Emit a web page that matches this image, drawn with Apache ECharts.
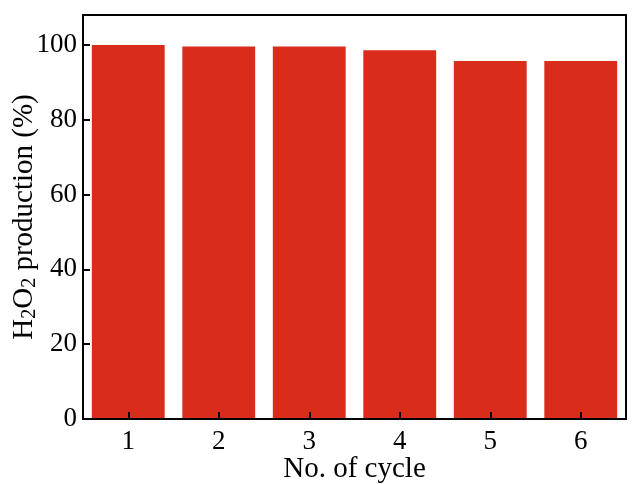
<!DOCTYPE html>
<html><head><meta charset="utf-8">
<script src="https://cdn.jsdelivr.net/npm/echarts@6/dist/echarts.min.js"></script>
<style>html,body{margin:0;padding:0;background:#fff}#c{width:640px;height:484px}</style>
</head><body><div id="c"></div>
<script>
const categories = ['1', '2', '3', '4', '5', '6'];
const production = [100, 99.6, 99.6, 98.6, 95.7, 95.7];
const yTicks = [0, 20, 40, 60, 80, 100];

const chart = echarts.init(document.getElementById('c'));
const font = 'Liberation Serif';
chart.setOption({
  animation: false,
  backgroundColor: '#fff',
  grid: { left: 83, right: 14, top: 15, bottom: 65, show: true, borderColor: '#000', borderWidth: 2,
    containLabel: false, outerBoundsMode: 'none' },
  xAxis: {
    type: 'category', data: categories, z: 5,
    axisLine: { lineStyle: { color: '#000', width: 2 } },
    axisTick: { show: true, inside: true, alignWithLabel: true, length: 7, lineStyle: { color: '#000', width: 2 } },
    axisLabel: { color: '#000', fontFamily: font, fontSize: 27, margin: 9 },
    name: 'No. of cycle', nameLocation: 'middle', nameGap: 36, nameMoveOverlap: false,
    nameTextStyle: { color: '#000', fontFamily: font, fontSize: 29 }
  },
  yAxis: {
    type: 'value', min: 0, max: 108, interval: 20, z: 5,
    splitLine: { show: false },
    axisLine: { show: true, lineStyle: { color: '#000', width: 2 } },
    axisTick: { show: true, inside: true, length: 7, lineStyle: { color: '#000', width: 2 } },
    axisLabel: { color: '#000', fontFamily: font, fontSize: 27, margin: 6, showMaxLabel: false,
      formatter: v => yTicks.includes(v) ? String(v) : '' },
    name: '{a|H}{s|2}{a|O}{s|2}{a| production (%)}', nameLocation: 'middle', nameGap: 43, nameRotate: 90,
    nameMoveOverlap: false,
    nameTextStyle: { color: '#000', fontFamily: font, fontSize: 29,
      rich: {
        a: { fontFamily: font, fontSize: 29, color: '#000' },
        s: { fontFamily: font, fontSize: 20, color: '#000', padding: [12, 0, 0, 0] }
      } }
  },
  series: [{
    type: 'bar', data: production, barCategoryGap: '19.5%',
    itemStyle: { color: '#d92c1b' }
  }]
});
</script></body></html>
